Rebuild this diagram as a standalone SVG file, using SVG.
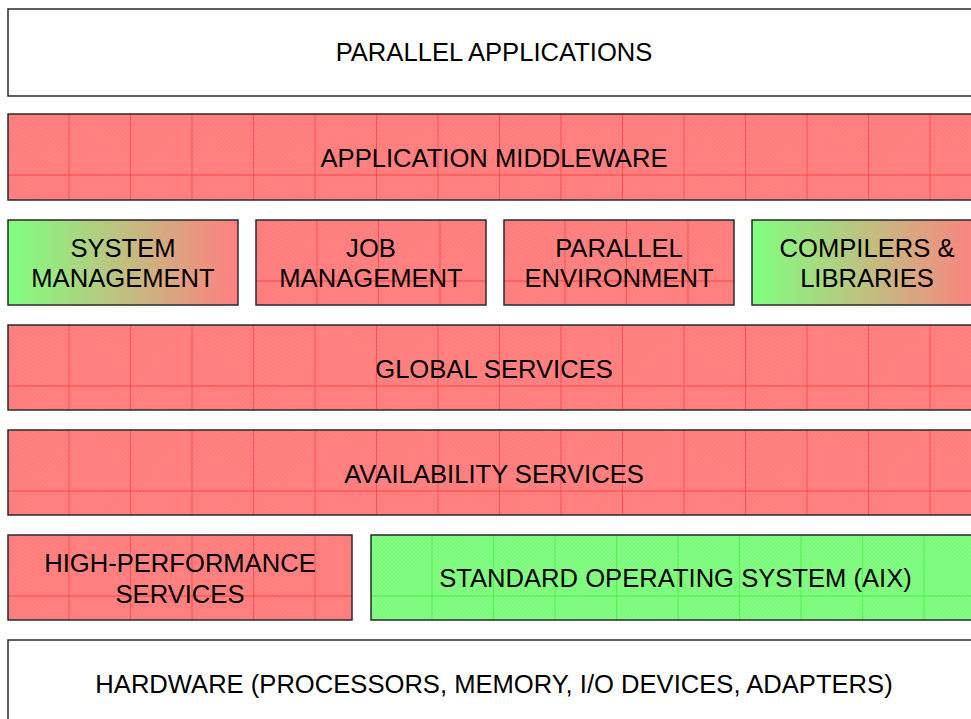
<svg xmlns="http://www.w3.org/2000/svg" width="971" height="719" viewBox="0 0 971 719">
<style>
.box{stroke:#2a2a2a;stroke-width:1.5}
.w{fill:#ffffff}
.r{fill:url(#gridR)}
.g{fill:url(#gridG)}
.gr{fill:url(#grad)}
text{font-family:"Liberation Sans",Arial,sans-serif;font-size:25.6px;fill:#000;text-anchor:middle}
</style>
<defs>
<pattern id="chkR" patternUnits="userSpaceOnUse" width="4" height="4">
<rect width="4" height="4" fill="#ff8585"/>
<rect width="2" height="2" fill="#ff7a7a"/>
<rect x="2" y="2" width="2" height="2" fill="#ff7a7a"/>
</pattern>
<pattern id="chkG" patternUnits="userSpaceOnUse" width="4" height="4">
<rect width="4" height="4" fill="#85ff85"/>
<rect width="2" height="2" fill="#7af77a"/>
<rect x="2" y="2" width="2" height="2" fill="#7af77a"/>
</pattern>
<pattern id="gridR" patternUnits="userSpaceOnUse" width="61.5" height="61.5">
<rect width="61.5" height="61.5" fill="url(#chkR)"/>
<rect x="60.8" y="0" width="1" height="61.5" fill="#ff3c3c"/>
<rect x="0" y="60.6" width="61.5" height="1" fill="#ff3c3c"/>
</pattern>
<pattern id="gridG" patternUnits="userSpaceOnUse" width="61.5" height="61.5">
<rect width="61.5" height="61.5" fill="url(#chkG)"/>
<rect x="60.8" y="0" width="1" height="61.5" fill="#3cf03c"/>
<rect x="0" y="60.6" width="61.5" height="1" fill="#3cf03c"/>
</pattern>
<linearGradient id="grad" x1="0" y1="0" x2="1" y2="0">
<stop offset="0" stop-color="#80ff80"/>
<stop offset="1" stop-color="#ff8080"/>
</linearGradient>
</defs>
<g id="parallel-applications" transform="translate(8,9)">
<rect class="box w" width="972" height="87"/>
<text x="486" y="52">PARALLEL APPLICATIONS</text>
</g>
<g id="application-middleware" transform="translate(8,114)">
<rect class="box r" width="972" height="86"/>
<text x="486" y="53">APPLICATION MIDDLEWARE</text>
</g>
<g id="system-management" transform="translate(8,220)">
<rect class="box gr" width="230" height="85"/>
<text x="115" y="37">SYSTEM</text>
<text x="115" y="67">MANAGEMENT</text>
</g>
<g id="job-management" transform="translate(256,220)">
<rect class="box r" width="230" height="85"/>
<text x="115" y="37">JOB</text>
<text x="115" y="67">MANAGEMENT</text>
</g>
<g id="parallel-environment" transform="translate(504,220)">
<rect class="box r" width="230" height="85"/>
<text x="115" y="37">PARALLEL</text>
<text x="115" y="67">ENVIRONMENT</text>
</g>
<g id="compilers-libraries" transform="translate(752,220)">
<rect class="box gr" width="230" height="85"/>
<text x="115" y="37">COMPILERS &amp;</text>
<text x="115" y="67">LIBRARIES</text>
</g>
<g id="global-services" transform="translate(8,325)">
<rect class="box r" width="972" height="85"/>
<text x="486" y="53">GLOBAL SERVICES</text>
</g>
<g id="availability-services" transform="translate(8,430)">
<rect class="box r" width="972" height="85"/>
<text x="486" y="53">AVAILABILITY SERVICES</text>
</g>
<g id="high-performance-services" transform="translate(8,535)">
<rect class="box r" width="344" height="85"/>
<text x="172" y="37">HIGH-PERFORMANCE</text>
<text x="172" y="68">SERVICES</text>
</g>
<g id="standard-os" transform="translate(371,535)">
<rect class="box g" width="609" height="85"/>
<text x="304.5" y="52">STANDARD OPERATING SYSTEM (AIX)</text>
</g>
<g id="hardware" transform="translate(8,640)">
<rect class="box w" width="972" height="90"/>
<text x="486" y="53">HARDWARE (PROCESSORS, MEMORY, I/O DEVICES, ADAPTERS)</text>
</g>
<g id="connectors"></g>
</svg>
